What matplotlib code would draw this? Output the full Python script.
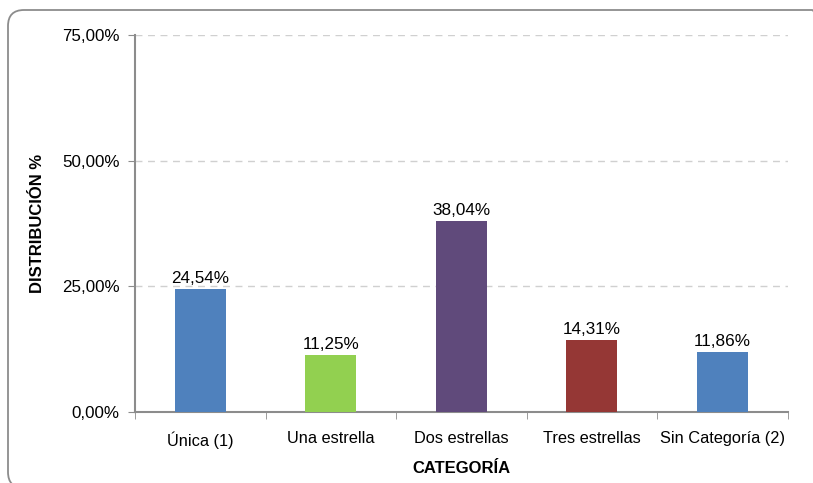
import matplotlib.pyplot as plt
from matplotlib.patches import FancyBboxPatch
import numpy as np

categorias = ["Única (1)", "Una estrella", "Dos estrellas", "Tres estrellas", "Sin Categoría (2)"]
valores = [24.54, 11.25, 38.04, 14.31, 11.86]
colores = ["#4F81BD", "#92D050", "#604A7B", "#953735", "#4F81BD"]
yticks = [0, 25, 50, 75]

plt.rcParams['font.family'] = ['Liberation Sans', 'DejaVu Sans']

fig = plt.figure(figsize=(8.13, 4.83), dpi=100)
ax = fig.add_axes([0.166, 0.147, 0.803, 0.781])

# rounded outer border (pixel coordinates, slightly clipped at right and bottom)
border = FancyBboxPatch((8, -5), 820, 478, boxstyle="round,pad=0,rounding_size=16",
                        transform=None, fill=False, edgecolor="#8c8c8c", linewidth=1.3)
fig.patches.append(border)

x = np.arange(len(categorias))
bars = ax.bar(x, valores, width=0.39, color=colores, zorder=3)
for xi, v in zip(x, valores):
    ax.text(xi, v + 0.6, f"{v:.2f}%".replace(".", ","), ha="center", va="bottom", fontsize=12.3)

ax.set_xlim(-0.5, len(categorias) - 0.5)
ax.set_ylim(0, 75)
ax.set_yticks(yticks)
ax.set_yticklabels([f"{t:.2f}%".replace(".", ",") for t in yticks], fontsize=12.2)
ax.set_xticks(x)
ax.set_xticklabels(categorias, fontsize=11.8)
ax.set_xticks(np.arange(-0.5, len(categorias)), minor=True)
ax.tick_params(axis="x", which="major", length=0, pad=14)
ax.tick_params(axis="x", which="minor", length=5, color="#8c8c8c", direction="out")
ax.tick_params(axis="y", length=5, color="#8c8c8c", direction="out", pad=6)

ax.grid(axis="y", linestyle=(0, (5, 4)), color="#d0d0d0", linewidth=1, zorder=0)
for s in ["top", "right"]:
    ax.spines[s].set_visible(False)
for s in ["left", "bottom"]:
    ax.spines[s].set_color("#8c8c8c")
    ax.spines[s].set_linewidth(1.5)

ax.set_ylabel("DISTRIBUCIÓN %", fontsize=12, fontweight="bold", labelpad=12)
ax.set_xlabel("CATEGORÍA", fontsize=12, fontweight="bold", labelpad=9)

fig.savefig("out.png", dpi=100)
